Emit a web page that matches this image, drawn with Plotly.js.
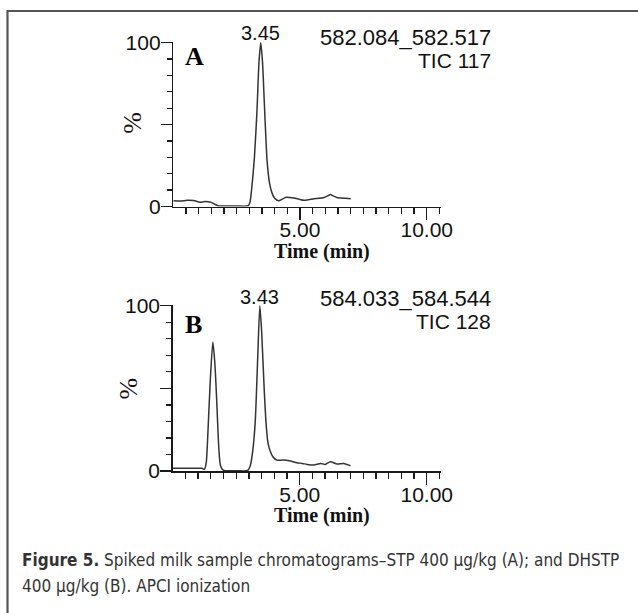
<!DOCTYPE html>
<html>
<head>
<meta charset="utf-8">
<script src="https://cdn.plot.ly/plotly-3.0.1.min.js"></script>
<style>html,body{margin:0;padding:0;background:#fff;}#chart{width:638px;height:613px;}</style>
</head>
<body>
<div id="chart"></div>
<script>
// ---- Data ----
const timeA = [0, 0.3, 0.55, 0.8, 1.05, 1.25, 1.5, 1.65, 1.8, 2.1, 2.5, 2.96, 3.03, 3.1, 3.2, 3.3, 3.38, 3.45, 3.52, 3.6, 3.7, 3.8, 3.9, 4.0, 4.15, 4.3, 4.45, 4.6, 4.75, 4.95, 5.15, 5.35, 5.55, 5.75, 5.95, 6.1, 6.2, 6.3, 6.45, 6.6, 6.8, 7.0];
const intensityA = [3.5, 3.3, 3.8, 3.6, 2.6, 3.0, 2.5, 1.2, 0.3, 0.3, 0.3, 0.5, 3, 12, 30, 58, 88, 100, 88, 60, 28, 14, 8, 5, 3.5, 4.5, 5.6, 5.5, 5.2, 4.5, 3.8, 4.2, 4.8, 5.0, 5.5, 6.5, 7.3, 6.5, 5.5, 5.2, 5.0, 4.8];

const timeB = [0, 0.6, 1.15, 1.25, 1.32, 1.4, 1.48, 1.58, 1.66, 1.74, 1.8, 1.87, 1.95, 2.05, 2.5, 2.95, 3.05, 3.15, 3.25, 3.35, 3.43, 3.5, 3.6, 3.68, 3.75, 3.84, 3.95, 4.1, 4.36, 4.63, 4.89, 5.1, 5.29, 5.55, 5.82, 6.0, 6.21, 6.47, 6.74, 7.0];
const intensityB = [1.6, 1.6, 1.6, 1.0, 5, 28, 55, 78, 65, 40, 18, 4, 1, 0.2, 0.2, 0.3, 3, 12, 30, 70, 100, 85, 50, 28, 17, 12, 8.5, 6.6, 6.6, 6.0, 5.0, 4.6, 4.0, 3.6, 4.6, 4.0, 5.6, 4.2, 4.6, 3.2];

const xTickVals = [2.5, 5, 7.5, 10];
const xTickText = ['', '5.00', '', '10.00'];
const yTickVals = [0, 50, 100];
const yTickText = ['0', '', '100'];

const panelLetters = ['A', 'B'];
const peakLabels = ['3.45', '3.43'];
const peakTimes = [3.45, 3.43];
const massLabels = ['582.084_582.517', '584.033_584.544'];
const ticLabels = ['TIC 117', 'TIC 128'];
const xTitle = 'Time (min)';
const yTitle = '%';
const caption1 = '<b>Figure 5.</b> Spiked milk sample chromatograms–STP 400 µg/kg (A); and DHSTP';
const caption2 = '400 µg/kg (B). APCI ionization';

// ---- Layout helpers (pixel -> paper) ----
const W = 638, H = 613;
const px = x => x / W;
const py = y => 1 - y / H;

const minorX = [];
for (let v = 0.5; v <= 10.5001; v += 0.5) minorX.push(+v.toFixed(2));

const lineCol = '#1a1a1a';
const tickFont = {family: 'Liberation Sans, Arial, sans-serif', size: 21, color: '#111'};

function xAxis(anchor) {
  return {
    anchor: anchor, range: [0, 10.55], showgrid: false, zeroline: false,
    showline: true, linecolor: lineCol, linewidth: 1.5,
    tickmode: 'array', tickvals: xTickVals, ticktext: xTickText,
    ticks: 'outside', ticklen: 12, tickwidth: 1.3, tickcolor: lineCol,
    tickfont: tickFont, ticklabelstandoff: -8, fixedrange: true,
    minor: {tickmode: 'array', tickvals: minorX, ticks: 'outside', ticklen: 6, tickwidth: 1.3, tickcolor: lineCol, showgrid: false}
  };
}
function yAxis(anchor) {
  return {
    anchor: anchor, range: [0, 100.6], showgrid: false, zeroline: false,
    showline: true, linecolor: lineCol, linewidth: 1.5,
    tickmode: 'array', tickvals: yTickVals, ticktext: yTickText,
    ticks: 'outside', ticklen: 11, tickwidth: 1.3, tickcolor: lineCol,
    tickfont: tickFont, ticklabelstandoff: -4, fixedrange: true,
    minor: {tickmode: 'linear', tick0: 0, dtick: 10, ticks: 'outside', ticklen: 5, tickwidth: 1.3, tickcolor: lineCol, showgrid: false}
  };
}

const traces = [
  {x: timeA, y: intensityA, xaxis: 'x', yaxis: 'y', type: 'scatter', mode: 'lines',
   line: {color: '#333', width: 1.5, shape: 'spline', smoothing: 0.6}, hoverinfo: 'skip'},
  {x: timeB, y: intensityB, xaxis: 'x2', yaxis: 'y2', type: 'scatter', mode: 'lines',
   line: {color: '#333', width: 1.5, shape: 'spline', smoothing: 0.6}, hoverinfo: 'skip'}
];

const xa1 = xAxis('y'); xa1.domain = [px(173.3), px(440.7)];
const ya1 = yAxis('x'); ya1.domain = [py(206.5), py(41.7)];
const xa2 = xAxis('y2'); xa2.domain = [px(172.7), px(440.7)];
const ya2 = yAxis('x2'); ya2.domain = [py(471), py(304.7)];

const arial = 'Liberation Sans, Arial, sans-serif';
const times = 'Liberation Serif, Times New Roman, serif';
const annotations = [];
const panelGeo = [
  {letterY: 56.7, letterX: 194.3, peakY: 33, massY: 38, ticY: 60, pctY: 123, pctX: 131.7, timeY: 251},
  {letterY: 324, letterX: 193.3, peakY: 297, massY: 299, ticY: 321, pctY: 388, pctX: 127.5, timeY: 515}
];
panelGeo.forEach((g, i) => {
  const xr = i === 0 ? 'x' : 'x2';
  annotations.push({text: '<b>' + panelLetters[i] + '</b>', xref: 'paper', yref: 'paper', x: px(g.letterX), y: py(g.letterY), xanchor: 'center', yanchor: 'middle', showarrow: false, font: {family: times, size: 26, color: '#000'}});
  annotations.push({text: peakLabels[i], xref: xr, yref: 'paper', x: peakTimes[i], y: py(g.peakY), xanchor: 'center', yanchor: 'middle', showarrow: false, font: {family: arial, size: 20, color: '#111'}});
  annotations.push({text: massLabels[i], xref: 'paper', yref: 'paper', x: px(493), y: py(g.massY), xanchor: 'right', yanchor: 'middle', showarrow: false, font: {family: arial, size: 22, color: '#111'}});
  annotations.push({text: ticLabels[i], xref: 'paper', yref: 'paper', x: px(493), y: py(g.ticY), xanchor: 'right', yanchor: 'middle', showarrow: false, font: {family: arial, size: 21, color: '#111'}});
  annotations.push({text: yTitle, xref: 'paper', yref: 'paper', x: px(g.pctX), y: py(g.pctY), xanchor: 'center', yanchor: 'middle', textangle: -90, showarrow: false, font: {family: times, size: 26, color: '#111'}});
  annotations.push({text: '<b>' + xTitle + '</b>', xref: 'paper', yref: 'paper', x: px(322), y: py(g.timeY), xanchor: 'center', yanchor: 'middle', showarrow: false, font: {family: times, size: 20, color: '#111'}});
});
const capFont = {family: 'DejaVu Sans Condensed, Liberation Sans Narrow, sans-serif', size: 17, color: '#333'};
annotations.push({text: caption1, xref: 'paper', yref: 'paper', x: px(20), y: py(560), xanchor: 'left', yanchor: 'middle', showarrow: false, font: capFont});
annotations.push({text: caption2, xref: 'paper', yref: 'paper', x: px(20), y: py(586), xanchor: 'left', yanchor: 'middle', showarrow: false, font: capFont});

const layout = {
  width: W, height: H, margin: {l: 0, r: 0, t: 0, b: 0},
  paper_bgcolor: '#fff', plot_bgcolor: 'rgba(0,0,0,0)', showlegend: false,
  xaxis: xa1, yaxis: ya1, xaxis2: xa2, yaxis2: ya2,
  annotations: annotations,
  shapes: [
    {type: 'path', xref: 'paper', yref: 'paper', path: 'M ' + px(7.5) + ' ' + py(613) + ' L ' + px(7.5) + ' ' + py(11) + ' L ' + px(638) + ' ' + py(11),
     line: {color: '#555', width: 2.2}}
  ]
};

Plotly.newPlot('chart', traces, layout, {staticPlot: true, displayModeBar: false});
</script>
</body>
</html>
